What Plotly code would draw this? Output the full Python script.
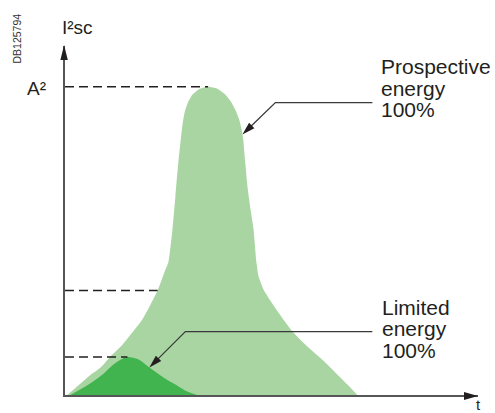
import numpy as np
import plotly.graph_objects as go

# ---- data (t in arbitrary time units, I²t in % of A²) ----
prospective_t = [0.06, 0.30, 0.57, 0.86, 1.08, 1.39, 1.54, 1.87, 2.07, 2.24,
                 2.43, 2.50, 2.60, 2.67, 2.74, 2.80, 2.84, 2.89, 2.97, 3.08, 3.25,
                 3.46, 3.68, 3.87, 4.01, 4.13, 4.22, 4.27, 4.29, 4.31, 4.36,
                 4.41, 4.49, 4.56, 4.63, 4.68, 4.80, 4.90, 5.16, 5.50, 5.86,
                 6.30, 6.66, 6.83, 7.07]
prospective_v = [0, 2.8, 6.0, 8.9, 12.2, 16.3, 18.8, 24.5, 29.4, 33.9,
                 40.7, 43.0, 53.7, 64.4, 75.4, 82.9, 87.5, 91.5, 94.8, 97.4, 99.3,
                 100, 99.4, 97.6, 95.2, 92.2, 89.0, 86.3, 84.5, 82.9, 75.4,
                 68.0, 60.0, 53.7, 43.0, 38.5, 34.2, 32.0, 26.8, 20.6, 15.7,
                 10.5, 5.7, 3.4, 0]
limited_t = [0.13, 0.57, 0.91, 1.17, 1.39, 1.51, 1.78, 2.04, 2.38, 2.67, 2.96, 3.20]
limited_v = [0, 3.4, 6.65, 9.9, 11.8, 12.3, 11.5, 8.9, 5.7, 3.4, 1.1, 0]
cutoff_level = 33.9

prospective_label = ["Prospective", "energy", "100%"]
limited_label = ["Limited", "energy", "100%"]
y_title = "I²sc"
x_title = "t"
peak_label = "A²"
ref_code = "DB125794"

# ---- layout geometry ----
W, H = 495, 413
ML, MR, MT, MB = 65, 17, 46, 18
PX_PER_T = 41.35
PX_PER_V = 3.082
plot_w = W - ML - MR
plot_h = H - MT - MB
x_range = [0, plot_w / PX_PER_T]
y_range = [0, plot_h / PX_PER_V]

FONT = "Liberation Sans, Arial, Helvetica, sans-serif"
TXT = "#231f20"
LIGHT = "#a8d5a1"
DARK = "#41b44f"
AXIS = "#555657"


def paper(px, py):
    return (px - ML) / plot_w, (H - MB - py) / plot_h


fig = go.Figure()
fig.add_trace(go.Scatter(x=prospective_t, y=prospective_v, mode="lines",
                         line=dict(width=0, shape="spline", smoothing=0.5),
                         fill="tozeroy", fillcolor=LIGHT, hoverinfo="skip"))
fig.add_trace(go.Scatter(x=limited_t, y=limited_v, mode="lines",
                         line=dict(width=0, shape="spline", smoothing=0.8),
                         fill="tozeroy", fillcolor=DARK, hoverinfo="skip"))

shapes = []
annotations = []

# dashed reference levels
ip = int(np.argmax(prospective_v))
il = int(np.argmax(limited_v))
cut_t = float(np.interp(cutoff_level, prospective_v[:ip + 1], prospective_t[:ip + 1]))
for t_end, lvl in [(prospective_t[ip], prospective_v[ip]),
                   (cut_t, cutoff_level),
                   (limited_t[il], limited_v[il])]:
    shapes.append(dict(type="line", xref="x", yref="y", x0=0, x1=t_end, y0=lvl, y1=lvl,
                       line=dict(color=TXT, width=1.5, dash="9px,5px"), layer="above"))


def callout(at, av, tail_dx, tail_dy, end_dx):
    d = np.array([tail_dx, tail_dy], float)
    d /= np.hypot(*d)
    n = np.array([-d[1], d[0]])
    base = d * 13
    c1 = base + n * 3.8
    c2 = base - n * 3.8
    b = d * 8
    shapes.append(dict(type="path", xref="x", yref="y", xsizemode="pixel", ysizemode="pixel",
                       xanchor=at, yanchor=av,
                       path=f"M{b[0]:.2f},{b[1]:.2f} L{tail_dx},{tail_dy} L{end_dx},{tail_dy}",
                       line=dict(color="#3a3a3a", width=1.3)))
    shapes.append(dict(type="path", xref="x", yref="y", xsizemode="pixel", ysizemode="pixel",
                       xanchor=at, yanchor=av,
                       path=f"M0,0 L{c1[0]:.2f},{c1[1]:.2f} L{c2[0]:.2f},{c2[1]:.2f} Z",
                       fillcolor=TXT, line=dict(width=0)))


ipa = prospective_t.index(4.29)
callout(prospective_t[ipa], prospective_v[ipa], 33, 32, 130)
callout(limited_t[7], limited_v[7], 36, 36, 223)

# axis arrowheads
shapes.append(dict(type="path", xref="paper", yref="paper", xsizemode="pixel", ysizemode="pixel",
                   xanchor=0, yanchor=1, path="M-0.9,1 L-4.6,-14 L2.8,-14 Z",
                   fillcolor=TXT, line=dict(width=0)))
shapes.append(dict(type="path", xref="paper", yref="paper", xsizemode="pixel", ysizemode="pixel",
                   xanchor=1, yanchor=0, path="M0,-0.9 L-14,3.1 L-14,-4.9 Z",
                   fillcolor=TXT, line=dict(width=0)))


def text(s, px, py, size, anchor="left", angle=0, color=TXT):
    x, y = paper(px, py)
    annotations.append(dict(text=s, x=x, y=y, xref="paper", yref="paper", showarrow=False,
                            xanchor=anchor, yanchor="middle", textangle=angle,
                            font=dict(family=FONT, size=size, color=color)))


FS = 21
for i, s in enumerate(prospective_label):
    text(s, 379, 66 + 22 * i, FS)
for i, s in enumerate(limited_label):
    text(s, 380, 307 + 21.5 * i, FS)
text(y_title, 60, 27.5, 19)
text(peak_label, 25, 88.5, 19)
text(x_title, 478, 404, 15, anchor="center")
text(ref_code, 17, 38.5, 10.5, anchor="center", angle=-90, color="#333333")

axis_common = dict(showgrid=False, zeroline=False, showticklabels=False, ticks="",
                   showline=True, linecolor=AXIS, linewidth=1.8, fixedrange=True)
fig.update_layout(
    width=W, height=H,
    margin=dict(l=ML, r=MR, t=MT, b=MB, pad=0),
    paper_bgcolor="white", plot_bgcolor="white",
    showlegend=False,
    xaxis=dict(range=x_range, **axis_common),
    yaxis=dict(range=y_range, **axis_common),
    shapes=shapes, annotations=annotations,
)
fig.write_html("out.html", config={"displayModeBar": False},
               post_script="document.body.style.margin='0';document.body.style.overflow='hidden';")
